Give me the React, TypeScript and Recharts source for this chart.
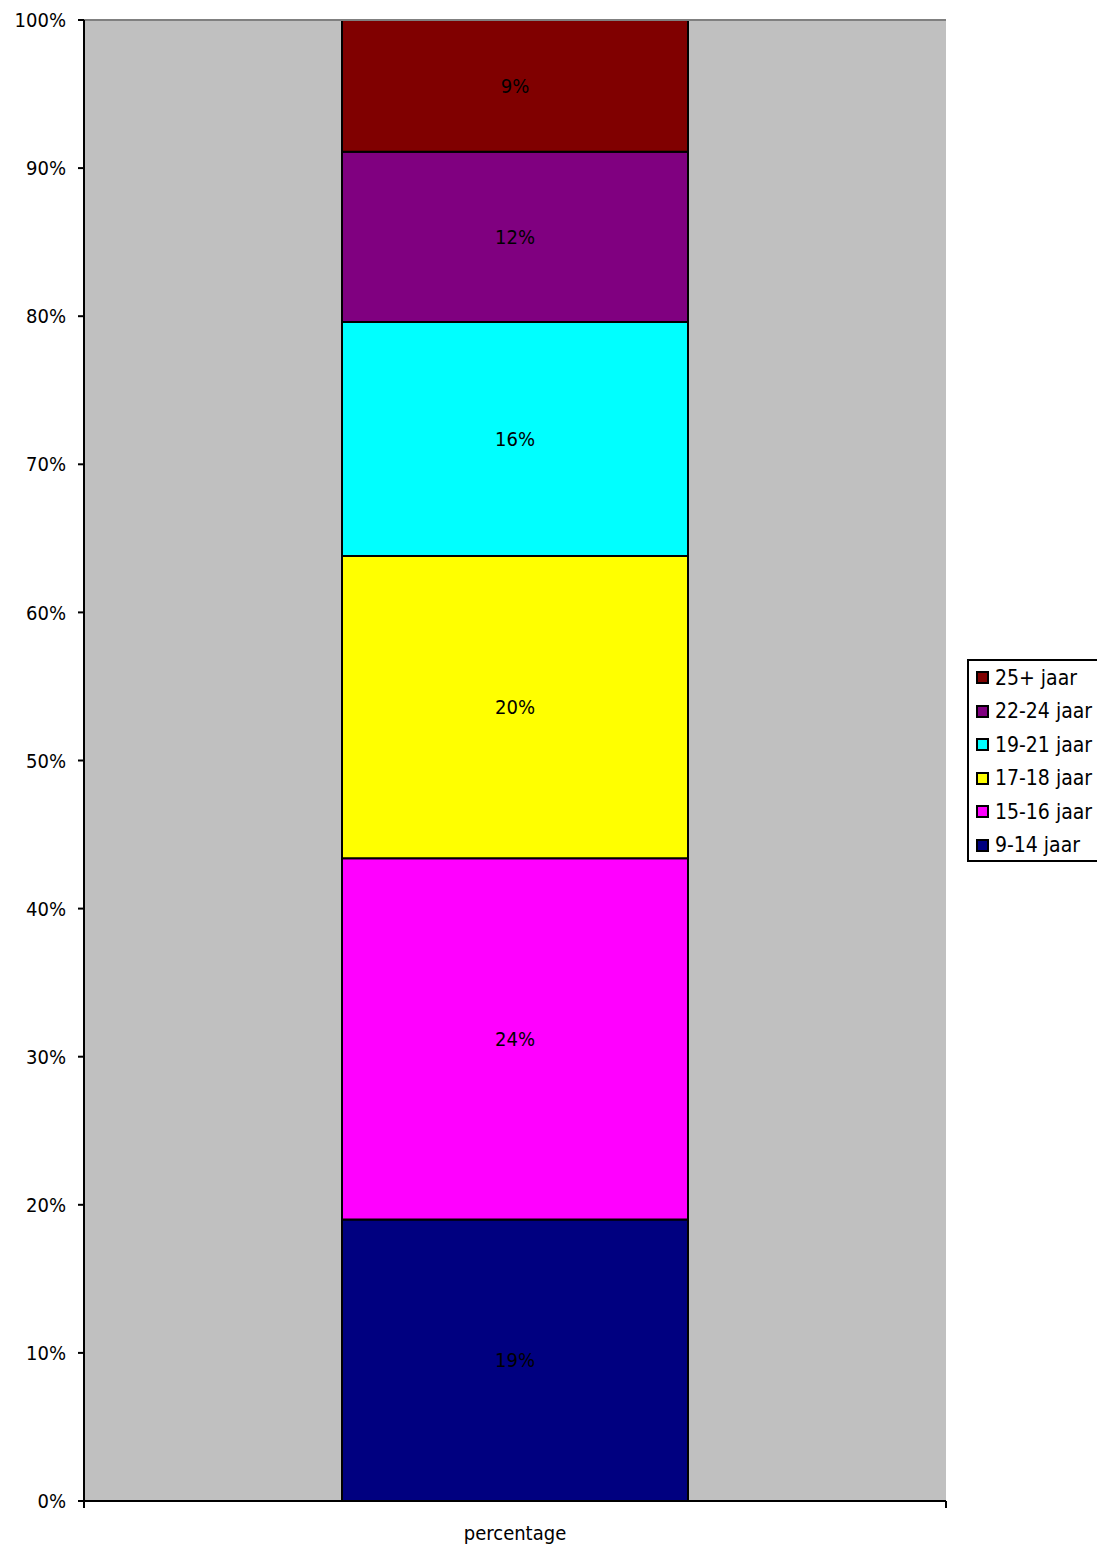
import React from 'react';
import {
  BarChart,
  Bar,
  XAxis,
  YAxis,
  CartesianGrid,
  ReferenceLine,
  LabelList,
} from 'recharts';

// Age groups, bottom to top of the stack
const groups = ['9-14 jaar', '15-16 jaar', '17-18 jaar', '19-21 jaar', '22-24 jaar', '25+ jaar'];
const shares = [19.0, 24.4, 20.4, 15.8, 11.5, 8.9];
const colors = ['#000080', '#FF00FF', '#FFFF00', '#00FFFF', '#800080', '#800000'];
const category = 'percentage';
const yTicks = [0, 10, 20, 30, 40, 50, 60, 70, 80, 90, 100];

const FONT = "'DejaVu Sans Condensed', 'DejaVu Sans', sans-serif";
const W = 1097;
const H = 1546;
const PLOT_LEFT = 84;
const PLOT_RIGHT = 946;
const PLOT_BOTTOM = 1501;

const row: Record<string, string | number> = { name: category };
groups.forEach((g, i) => {
  row[g] = shares[i];
});
const chartData = [row];

function XTick(props: any) {
  const { x, payload } = props;
  return (
    <g>
      <line x1={PLOT_LEFT} y1={PLOT_BOTTOM} x2={PLOT_LEFT} y2={PLOT_BOTTOM + 7} stroke="#000" strokeWidth={2} />
      <line x1={PLOT_RIGHT} y1={PLOT_BOTTOM} x2={PLOT_RIGHT} y2={PLOT_BOTTOM + 7} stroke="#000" strokeWidth={2} />
      <text x={x} y={PLOT_BOTTOM + 39} textAnchor="middle" fontSize={20} fontFamily={FONT} fill="#000">
        {payload.value}
      </text>
    </g>
  );
}

export default function App() {
  return (
    <div style={{ position: 'absolute', left: 0, top: 0, width: W, height: H, background: '#fff', overflow: 'hidden' }}>
      <BarChart
        width={W}
        height={H}
        data={chartData}
        margin={{ top: 20, right: W - PLOT_RIGHT, bottom: 0, left: 0 }}
        barSize={346}
      >
        <CartesianGrid fill="#C0C0C0" horizontal={false} vertical={false} />
        <ReferenceLine y={100} stroke="#808080" strokeWidth={2} />
        <XAxis
          dataKey="name"
          height={H - PLOT_BOTTOM}
          axisLine={{ stroke: '#000', strokeWidth: 2 }}
          tickLine={false}
          tick={<XTick />}
          interval={0}
        />
        <YAxis
          width={PLOT_LEFT}
          domain={[0, 100]}
          ticks={yTicks}
          allowDataOverflow
          tickFormatter={(v: number) => `${v}%`}
          axisLine={{ stroke: '#000', strokeWidth: 2 }}
          tickLine={{ stroke: '#000', strokeWidth: 2 }}
          tickSize={6}
          tickMargin={12}
          tick={{ fontSize: 20, fontFamily: FONT, fill: '#000' }}
        />
        <YAxis
          yAxisId="right"
          orientation="right"
          width={0}
          domain={[0, 100]}
          tick={false}
          tickLine={false}
          axisLine={{ stroke: '#808080', strokeWidth: 2 }}
        />
        {groups.map((g, i) => (
          <Bar
            key={g}
            dataKey={g}
            stackId="a"
            fill={colors[i]}
            stroke="#000"
            strokeWidth={2}
            isAnimationActive={false}
          >
            <LabelList
              dataKey={g}
              position="center"
              formatter={(v: any) => `${Math.round(Number(v))}%`}
              fill="#000"
              fontSize={20}
              fontFamily={FONT}
            />
          </Bar>
        ))}
      </BarChart>

      {/* Legend box on the right, partly cut off by the page edge */}
      <div
        style={{
          position: 'absolute',
          left: 967,
          top: 659,
          width: 140,
          height: 203,
          border: '2px solid #000',
          background: '#fff',
          boxSizing: 'border-box',
          fontFamily: FONT,
          fontSize: 21,
          paddingTop: 0,
        }}
      >
        {groups
          .map((g, i) => ({ g, c: colors[i] }))
          .reverse()
          .map(({ g, c }) => (
            <div key={g} style={{ display: 'flex', alignItems: 'center', height: 33.5, paddingLeft: 7 }}>
              <span
                style={{
                  display: 'inline-block',
                  width: 13,
                  height: 13,
                  background: c,
                  border: '2px solid #000',
                  boxSizing: 'border-box',
                  marginRight: 6,
                }}
              />
              <span style={{ whiteSpace: 'nowrap' }}>{g}</span>
            </div>
          ))}
      </div>
    </div>
  );
}
